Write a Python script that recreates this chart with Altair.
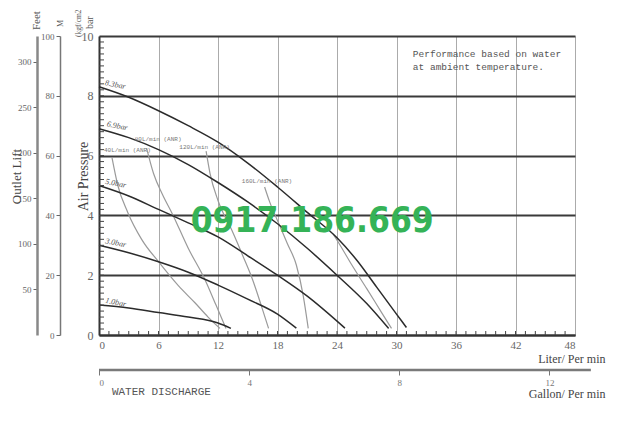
import altair as alt
import pandas as pd

# ---- pressure curves (air supply, bar): flow (L/min) vs outlet pressure (kgf/cm2)
p83_L = [0, 3, 6, 9, 12, 15, 18, 21, 24, 26, 28, 30, 31]
p83_P = [8.3, 7.95, 7.5, 7.0, 6.45, 5.75, 4.95, 4.1, 3.25, 2.5, 1.6, 0.7, 0.25]
p69_L = [0, 3, 6, 9, 12, 15, 18, 21, 24, 27, 29.2]
p69_P = [6.9, 6.6, 6.2, 5.7, 5.1, 4.45, 3.72, 2.9, 2.0, 1.05, 0.22]
p50_L = [0, 3, 6, 9, 12, 15, 18, 21, 24.8]
p50_P = [5.0, 4.65, 4.2, 3.75, 3.28, 2.65, 2.0, 1.3, 0.23]
p30_L = [0, 3, 6, 9, 12, 15, 18, 19.9]
p30_P = [3.0, 2.75, 2.45, 2.1, 1.67, 1.2, 0.7, 0.23]
p10_L = [0, 3, 6, 9, 12, 13.3]
p10_P = [1.0, 0.9, 0.75, 0.6, 0.4, 0.22]

# ---- air consumption curves (L/min ANR)
g40_L = [1.3, 1.9, 2.9, 4.3, 6.0, 8.0, 9.7, 11.0, 12.2]
g40_P = [5.95, 5.0, 4.1, 3.2, 2.45, 1.65, 1.07, 0.6, 0.22]
g80_L = [4.8, 5.5, 6.4, 7.4, 9.0, 10.7, 11.8, 12.8]
g80_P = [6.25, 5.4, 4.7, 4.05, 2.9, 1.84, 1.0, 0.22]
g120_L = [10.8, 11.2, 12.0, 13.4, 14.5, 15.5, 16.3, 17.1]
g120_P = [6.15, 5.4, 4.5, 3.5, 2.65, 1.84, 1.05, 0.22]
g160_L = [16.7, 17.2, 18.1, 19.0, 19.9, 20.6, 21.1]
g160_P = [4.95, 4.46, 3.75, 3.05, 2.34, 1.3, 0.22]
g200_L = [23.6, 24.1, 25.5, 27.0, 28.5, 29.5]
g200_P = [3.38, 3.12, 2.34, 1.55, 0.75, 0.22]

# ---- labels
bar_text = ["8.3bar", "6.9bar", "5.0bar", "3.0bar", "1.0bar"]
bar_L = [0.55, 0.75, 0.6, 0.6, 0.6]
bar_P = [8.36, 6.98, 5.06, 3.07, 1.08]

air_text = ["40L/min (ANR)", "80L/min (ANR)", "120L/min (ANR)", "160L/min (ANR)"]
air_L = [0.5, 3.6, 8.1, 14.4]
air_P = [6.18, 6.55, 6.29, 5.15]

x_ticks = [0, 6, 12, 18, 24, 30, 36, 42, 48]
y_ticks = [0, 2, 4, 6, 8, 10]
m_ticks = [0, 20, 40, 60, 80, 100]
ft_ticks = [50, 100, 150, 200, 250, 300]
gal_ticks = [0, 4, 8, 12]
x_minor = list(range(1, 48))
y_minor = [round(i * 0.2, 1) for i in range(1, 50)]

LPG = 3.78541
W, H = 476, 299
SERIF = "Liberation Serif"
MONO = "Liberation Mono"


def frame(names, Ls, Ps):
    rows = []
    for n, l, p in zip(names, Ls, Ps):
        for a, b in zip(l, p):
            rows.append({"series": n, "L": a, "P": b})
    return pd.DataFrame(rows)


black_df = frame(["8.3", "6.9", "5.0", "3.0", "1.0"],
                 [p83_L, p69_L, p50_L, p30_L, p10_L],
                 [p83_P, p69_P, p50_P, p30_P, p10_P])
gray_df = frame(["40", "80", "120", "160", "200"],
                [g40_L, g80_L, g120_L, g160_L, g200_L],
                [g40_P, g80_P, g120_P, g160_P, g200_P])


def xs():
    return alt.Scale(domain=[0, 48], nice=False, zero=False)


def ys():
    return alt.Scale(domain=[0, 10], nice=False, zero=False)


def X(field="L:Q"):
    return alt.X(field, scale=xs(), axis=None)


def Y(field="P:Q"):
    return alt.Y(field, scale=ys(), axis=None)


x_axis = alt.Axis(values=x_ticks, grid=True, gridColor="#ababab", gridWidth=1,
                  ticks=False, domainColor="#333", domainWidth=2,
                  labelFont=SERIF, labelFontSize=11, labelColor="#666", labelPadding=4,
                  title="Liter/ Per min", titleFont=SERIF, titleFontSize=12,
                  titleFontWeight="normal", titleColor="#444",
                  titleX=506, titleY=27, titleAlign="right", titleBaseline="alphabetic")
y_axis = alt.Axis(values=y_ticks, grid=True, gridColor="#3a3a3a", gridWidth=1.8,
                  ticks=False, domainColor="#333", domainWidth=2,
                  labelFont=SERIF, labelFontSize=12, labelColor="#666", labelPadding=6,
                  title="Air Pressure", titleFont=SERIF, titleFontSize=14,
                  titleFontWeight="normal", titleColor="#444",
                  titleX=-16, titleY=140, titleAngle=270, titleAlign="center",
                  titleBaseline="middle")

axes_layer = alt.Chart(pd.DataFrame({"L": [0, 48], "P": [0, 10]})).mark_point(opacity=0).encode(
    x=alt.X("L:Q", scale=xs(), axis=x_axis),
    y=alt.Y("P:Q", scale=ys(), axis=y_axis),
)

black = alt.Chart(black_df).mark_line(color="#2b2b2b", strokeWidth=1.5, interpolate="monotone").encode(
    x=X(), y=Y(), detail="series:N")
gray = alt.Chart(gray_df).mark_line(color="#9a9a9a", strokeWidth=1.2, interpolate="monotone").encode(
    x=X(), y=Y(), detail="series:N")

ytick = alt.Chart(pd.DataFrame({"P": y_minor})).mark_rule(color="#444", strokeWidth=1).encode(
    y=Y(), x=alt.value(0), x2=alt.value(5))
xtick = alt.Chart(pd.DataFrame({"L": x_minor})).mark_rule(color="#444", strokeWidth=1).encode(
    x=X(), y=alt.value(H), y2=alt.value(H - 4))

gal_line = alt.Chart(pd.DataFrame({"L": [0], "L2": [49.6]})).mark_rule(color="#7a7a7a", strokeWidth=2.5).encode(
    x=X(), x2="L2:Q", y=alt.value(H + 35))

bar_lab = alt.Chart(pd.DataFrame({"t": bar_text, "L": bar_L, "P": bar_P})).mark_text(
    font=SERIF, fontSize=8, fontStyle="italic", color="#555", align="left",
    baseline="alphabetic", angle=11).encode(x=X(), y=Y(), text="t:N")
air_lab = alt.Chart(pd.DataFrame({"t": air_text, "L": air_L, "P": air_P})).mark_text(
    font=MONO, fontSize=6, color="#777", align="left", baseline="middle").encode(
    x=X(), y=Y(), text="t:N")

note = alt.Chart(pd.DataFrame({"t": ["Performance based on water\nat ambient temperature."],
                               "L": [31.65], "P": [9.3]})).mark_text(
    font=MONO, fontSize=9.5, color="#555", align="left", baseline="alphabetic",
    lineBreak="\n", lineHeight=13).encode(x=X(), y=Y(), text="t:N")

side_text = ["(kgf/cm2", "bar", "Feet", "M"]
side_L = [-2.0, -0.91, -6.25, -3.83]
side_P = [9.97, 10.23, 10.2, 10.3]
side_size = [7.5, 10, 11, 8]
side = alt.Chart(pd.DataFrame({"t": side_text, "L": side_L, "P": side_P, "s": side_size})).mark_text(
    font=SERIF, color="#555", align="left", baseline="middle", angle=270).encode(
    x=X(), y=Y(), text="t:N", size=alt.Size("s:Q", scale=None, legend=None))

water = alt.Chart(pd.DataFrame({"t": ["WATER DISCHARGE"], "L": [1.3], "P": [-1.906]})).mark_text(
    font=MONO, fontSize=11, color="#555", align="left", baseline="middle").encode(
    x=X(), y=Y(), text="t:N")

mark_wm = alt.Chart(pd.DataFrame({"t": ["0917.186.669"], "L": [21.5], "P": [3.81]})).mark_text(
    font="DejaVu Sans Condensed, sans-serif", fontSize=35,
    fontWeight="bold", color="#35b357", align="center", baseline="middle").encode(
    x=X(), y=Y(), text="t:N")

m_layer = alt.Chart(pd.DataFrame({"M": [0, 100]})).mark_point(opacity=0).encode(
    x=alt.value(0),
    y=alt.Y("M:Q", scale=alt.Scale(domain=[0, 100], nice=False),
            axis=alt.Axis(orient="left", offset=39, values=m_ticks, grid=False, title=None,
                          domainColor="#777", domainWidth=1.5, tickColor="#666", tickSize=4,
                          labelFont=SERIF, labelFontSize=9, labelColor="#666", labelPadding=2)))
ft_layer = alt.Chart(pd.DataFrame({"F": [0, 328.08]})).mark_point(opacity=0).encode(
    x=alt.value(0),
    y=alt.Y("F:Q", scale=alt.Scale(domain=[0, 328.08], nice=False),
            axis=alt.Axis(orient="left", offset=62, values=ft_ticks, grid=False,
                          domainColor="#888", domainWidth=2.5, tickColor="#666", tickSize=4,
                          labelFont=SERIF, labelFontSize=9, labelColor="#666", labelPadding=2,
                          title="Outlet Lift", titleFont=SERIF, titleFontSize=13,
                          titleFontWeight="normal", titleColor="#444",
                          titleX=-21, titleY=140, titleAngle=270, titleAlign="center",
                          titleBaseline="middle")))
gal_layer = alt.Chart(pd.DataFrame({"G": [0, 48 / LPG]})).mark_point(opacity=0).encode(
    y=alt.value(0),
    x=alt.X("G:Q", scale=alt.Scale(domain=[0, 48 / LPG], nice=False),
            axis=alt.Axis(orient="bottom", offset=35, values=gal_ticks, grid=False, domain=False,
                          tickColor="#777", tickSize=5, labelFont=SERIF, labelFontSize=9,
                          labelColor="#777", labelPadding=3,
                          title="Gallon/ Per min", titleFont=SERIF, titleFontSize=12,
                          titleFontWeight="normal", titleColor="#444",
                          titleX=506, titleY=27, titleAlign="right", titleBaseline="alphabetic")))

chart = alt.layer(
    axes_layer, gray, black, ytick, xtick, gal_line, bar_lab, air_lab, note, side, water,
    mark_wm, m_layer, ft_layer, gal_layer
).resolve_scale(
    x="independent", y="independent"
).properties(
    width=W, height=H,
    autosize=alt.AutoSizeParams(type="none"),
    padding={"left": 91, "top": 28, "right": 40, "bottom": 97},
    background="white",
).configure_view(stroke=None)

chart.save("out.html", embed_options={"renderer": "svg", "actions": False})
